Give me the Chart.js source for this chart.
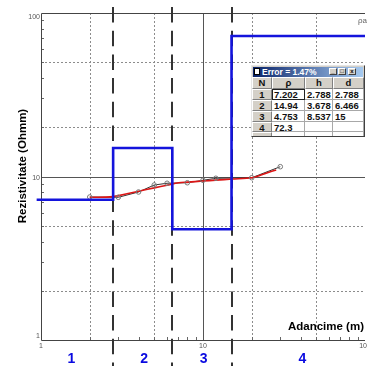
<!DOCTYPE html>
<html>
<head>
<meta charset="utf-8">
<script src="https://cdn.jsdelivr.net/npm/chart.js@4.4.0/dist/chart.umd.min.js"></script>
<style>
  html, body { margin: 0; padding: 0; background: #fff; overflow: hidden; }
  #wrap { position: relative; width: 370px; height: 366px; }
  #win { position: absolute; left: 251px; top: 65px; width: 114px; height: 72px; overflow: hidden;
         background: #d4d0c8; box-sizing: border-box; border: 1px solid; border-color: #e6e6e6 #404040 #404040 #e6e6e6;
         font-family: "Liberation Sans", Arial, sans-serif; }
  #bar { position: absolute; left: 1px; top: 1px; width: 110px; height: 10px;
         background: linear-gradient(90deg, #0a246a, #a6caf0); }
  #bar .ic { position: absolute; left: 1px; top: 1px; width: 6px; height: 7px; background: #fff; border: 1px solid #000; box-sizing: border-box; }
  #bar .t { position: absolute; left: 9px; top: 0; font: bold 8.5px "Liberation Sans", Arial, sans-serif; line-height: 10px; color: #fff; white-space: nowrap; }
  #bar .b { position: absolute; top: 1px; width: 8px; height: 7px; background: #d4d0c8; box-sizing: border-box;
            border: 1px solid; border-color: #fff #404040 #404040 #fff; font: bold 6px Arial, sans-serif; line-height: 5px; text-align: center; color: #000; }
  .c { position: absolute; box-sizing: border-box; font: bold 9.5px "Liberation Sans", Arial, sans-serif; line-height: 9px; color: #111; white-space: nowrap; overflow: hidden; }
  .g { background: #d4d0c8; border: 1px solid; border-color: #fff #808080 #808080 #fff; text-align: center; }
  .w { background: #fff; border-right: 1px solid #a8a8a8; border-bottom: 1px solid #a8a8a8; padding: 1px 0 0 2px; }
  .f { outline: 1px solid #222; outline-offset: -1px; }
</style>
</head>
<body>
<div id="wrap">
  <canvas id="chart"></canvas>
  <div id="win">
    <div id="bar"><div class="ic"></div><div class="t" id="title"></div>
      <div class="b" style="left:76px">_</div><div class="b" style="left:85px">□</div><div class="b" style="left:95px">x</div>
    </div>
  </div>
</div>
<script>
// Layer model: resistivity (Ohmm), thickness and depth to bottom (m)
const rho   = [7.202, 14.94, 4.753, 72.3];
const thick = [2.788, 3.678, 8.537];
const depth = [2.788, 6.466, 15];
const errorPct = 1.47;

// Measured apparent resistivity
const obsX = [2, 3, 4, 5, 6, 8, 10, 12, 20, 30];
const obsY = [7.49, 7.46, 8.04, 8.87, 9.09, 9.16, 9.48, 9.75, 9.83, 11.48];

// Computed response of the model
const calcX = [2, 2.77, 4, 5, 6, 7.08, 8, 10, 12, 15.15, 20, 25, 28.3];
const calcY = [7.46, 7.53, 8.13, 8.52, 8.85, 9.16, 9.24, 9.38, 9.5, 9.65, 9.83, 10.55, 10.96];

// Axis ranges and labels
const xRange = [1, 100];
const yRange = [1, 100];
const decadeLabels = ['1', '10', '100'];
const dottedGrid = [2, 5, 20, 50];
const solidGrid = [10];
const layerNames = ['1', '2', '3', '4'];
const layerLabelX = [1.54, 4.33, 10.1, 41];

// Step profile of the model, starting just left of the axis
const modelPts = [{x: 0.94, y: rho[0]}];
depth.forEach((d, i) => modelPts.push({x: d, y: rho[i + 1]}));
modelPts.push({x: xRange[1], y: rho[rho.length - 1]});

// Inset table
document.getElementById('title').textContent = 'Error = ' + errorPct + '%';
const win = document.getElementById('win');
const colX = [0, 20, 53, 81, 112];
const rowY = [11, 23, 34, 45, 56, 66, 76];
function cell(cls, i, j, txt) {
  const d = document.createElement('div');
  d.className = 'c ' + cls;
  d.style.left = colX[j] + 'px';
  d.style.top = rowY[i] + 'px';
  d.style.width = (colX[j + 1] - colX[j]) + 'px';
  d.style.height = (rowY[i + 1] - rowY[i]) + 'px';
  d.textContent = txt;
  win.appendChild(d);
}
['N', 'ρ', 'h', 'd'].forEach((t, j) => cell('g', 0, j, t));
for (let r = 0; r < 5; r++) {
  cell('g', r + 1, 0, r < rho.length ? String(r + 1) : '');
  cell('w' + (r === 0 ? ' f' : ''), r + 1, 1, r < rho.length ? String(rho[r]) : '');
  cell('w', r + 1, 2, r < thick.length ? String(thick[r]) : '');
  cell('w', r + 1, 3, r < depth.length ? String(depth[r]) : '');
}

const FONT = '"Liberation Sans", Arial, sans-serif';
function seg(ctx, x1, y1, x2, y2) { ctx.beginPath(); ctx.moveTo(x1, y1); ctx.lineTo(x2, y2); ctx.stroke(); }

const decor = {
  id: 'decor',
  beforeDatasetsDraw(chart) {
    const {ctx, chartArea: a, scales: {x, y}} = chart;
    ctx.save();
    ctx.lineWidth = 1;
    // dotted grid
    ctx.strokeStyle = '#8c8c8c';
    ctx.setLineDash([2, 2]);
    dottedGrid.forEach(v => {
      const px = Math.round(x.getPixelForValue(v)) + 0.5;
      seg(ctx, px, a.top, px, a.bottom);
      const py = Math.round(y.getPixelForValue(v)) + 0.5;
      seg(ctx, a.left, py, a.right, py);
    });
    ctx.setLineDash([]);
    ctx.strokeStyle = '#555';
    solidGrid.forEach(v => {
      const px = Math.round(x.getPixelForValue(v)) + 0.5;
      seg(ctx, px, a.top, px, a.bottom);
      const py = Math.round(y.getPixelForValue(v)) + 0.5;
      seg(ctx, a.left, py, a.right, py);
    });
    // minor ticks pointing inward
    ctx.strokeStyle = '#666';
    [1, 10].forEach(dec => {
      for (let m = 2; m <= 9; m++) {
        const v = dec * m;
        const px = Math.round(x.getPixelForValue(v)) + 0.5;
        seg(ctx, px, a.bottom, px, a.bottom - 3);
        const py = Math.round(y.getPixelForValue(v)) + 0.5;
        seg(ctx, a.left, py, a.left + 3, py);
      }
    });
    // frame
    ctx.strokeStyle = '#444';
    const L = Math.round(a.left) + 0.5, T = Math.round(a.top) + 0.5, B = Math.round(a.bottom) + 0.5;
    seg(ctx, L, T, a.right, T);
    seg(ctx, L, T, L, B);
    seg(ctx, L, B, a.right, B);
    // layer boundaries
    ctx.strokeStyle = '#333';
    ctx.lineWidth = 2;
    ctx.setLineDash([15.5, 8.2]);
    depth.forEach(d => {
      const px = Math.round(x.getPixelForValue(d));
      seg(ctx, px, 7, px, chart.height);
    });
    ctx.restore();
  },
  afterDraw(chart) {
    const {ctx, chartArea: a, scales: {x, y}} = chart;
    ctx.save();
    // decade labels
    ctx.fillStyle = '#555';
    ctx.font = '7px ' + FONT;
    ctx.textAlign = 'right';
    ctx.textBaseline = 'alphabetic';
    const yOff = [-2, 3, 6];
    decadeLabels.forEach((t, i) => {
      ctx.fillText(t, a.left - 1, y.getPixelForValue(Number(t)) + yOff[i]);
    });
    ctx.textAlign = 'center';
    decadeLabels.forEach(t => {
      ctx.fillText(t, x.getPixelForValue(Number(t)), a.bottom + 7.5);
    });
    // layer numbers
    ctx.fillStyle = '#0a0ae0';
    ctx.font = 'bold 14px ' + FONT;
    layerNames.forEach((t, i) => ctx.fillText(t, x.getPixelForValue(layerLabelX[i]), 363));
    // axis titles
    ctx.fillStyle = '#000';
    ctx.font = 'bold 11.5px ' + FONT;
    ctx.textAlign = 'right';
    ctx.fillText('Adancime (m)', 364, 330);
    ctx.save();
    ctx.translate(26, 166);
    ctx.rotate(-Math.PI / 2);
    ctx.textAlign = 'center';
    ctx.fillText('Rezistivitate (Ohmm)', 0, 0);
    ctx.restore();
    // legend entry
    ctx.fillStyle = '#666';
    ctx.font = '8px ' + FONT;
    ctx.textAlign = 'left';
    ctx.fillText('ρa', 358, 23);
    ctx.restore();
  }
};

new Chart(document.getElementById('chart'), {
  type: 'line',
  data: {
    datasets: [
      { label: 'model', data: modelPts, stepped: 'before', borderColor: '#1414dc', borderWidth: 2.6,
        pointRadius: 0, fill: false, clip: false },
      { label: 'circles', data: obsX.map((v, i) => ({x: v, y: obsY[i]})), showLine: false,
        pointRadius: 2.3, pointBorderWidth: 1, pointBorderColor: '#7a7a7a', pointBackgroundColor: 'rgba(0,0,0,0)' },
      { label: 'calc', data: calcX.map((v, i) => ({x: v, y: calcY[i]})), borderColor: '#dd1515', borderWidth: 1.6,
        pointRadius: 0, tension: 0.3, fill: false },
      { label: 'obs', data: obsX.map((v, i) => ({x: v, y: obsY[i]})), borderColor: '#333', borderWidth: 1,
        pointRadius: 0, fill: false }
    ]
  },
  options: {
    responsive: true,
    maintainAspectRatio: false,
    animation: false,
    layout: { padding: { left: 41, top: 13, right: 2, bottom: 26 } },
    plugins: { legend: { display: false }, tooltip: { enabled: false } },
    scales: {
      x: { type: 'logarithmic', min: xRange[0], max: xRange[1], display: false },
      y: { type: 'logarithmic', min: yRange[0], max: yRange[1], display: false }
    }
  },
  plugins: [decor]
});
</script>
</body>
</html>
